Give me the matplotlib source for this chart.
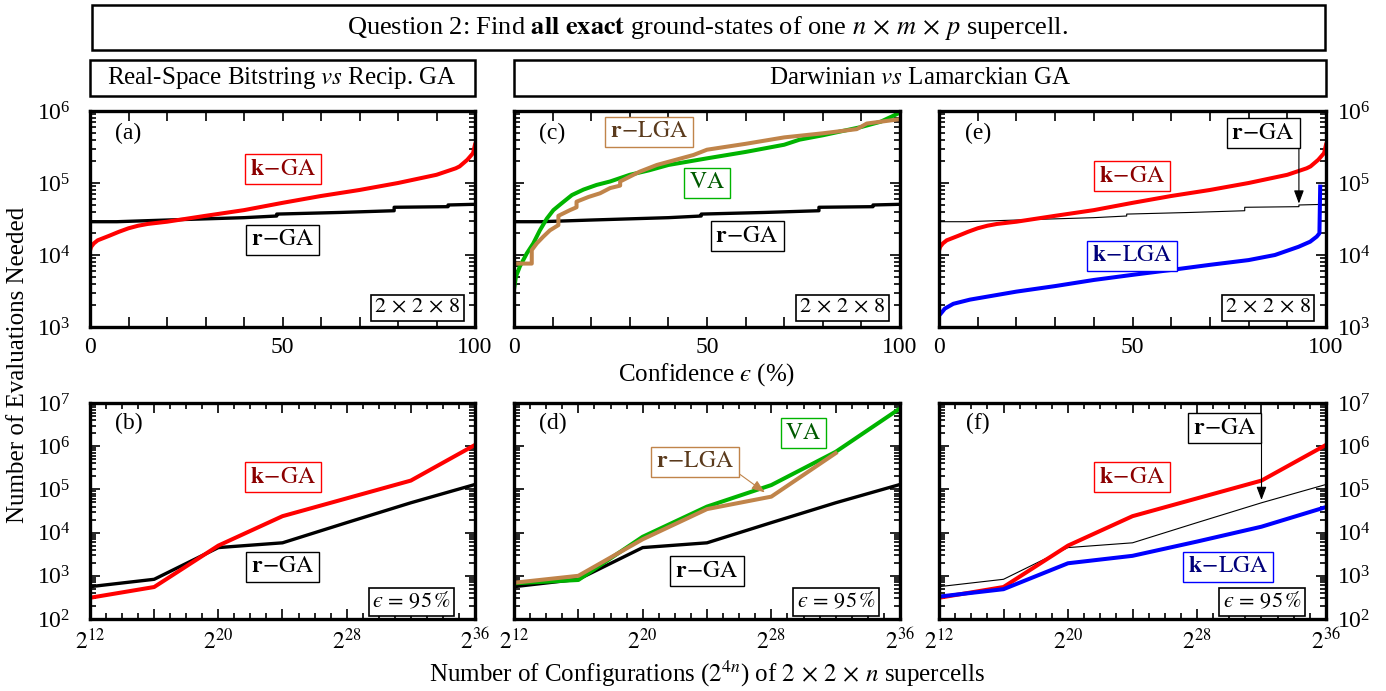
import numpy as np
import matplotlib
matplotlib.use("Agg")
import matplotlib.pyplot as plt
from matplotlib.patches import Rectangle
from matplotlib.ticker import (MultipleLocator, FuncFormatter, FixedLocator,
                               LogLocator, NullFormatter)
from matplotlib.transforms import blended_transform_factory

plt.rcParams["font.family"] = "serif"
plt.rcParams["font.serif"] = ["Liberation Serif", "DejaVu Serif"]
plt.rcParams["mathtext.fontset"] = "stix"

# ---- top row: evaluations vs confidence (2x2x8 cell) ----
pct_kga = [0, 0.3, 1, 2, 5, 7.5, 10, 12.5, 15, 20, 30, 40, 50, 60, 70, 80, 90, 95, 96, 98,
           99.5, 100]
kga_top = [1.15e4, 1.3e4, 1.45e4, 1.6e4, 1.85e4, 2.1e4, 2.35e4, 2.55e4, 2.7e4, 2.9e4,
           3.5e4, 4.2e4, 5.3e4, 6.6e4, 8.0e4, 1.0e5, 1.3e5, 1.6e5, 1.7e5, 2.1e5, 2.6e5, 3.4e5]

pct_rga = [0, 7, 20, 40, 48.5, 48.5, 65, 79, 79, 93, 93, 100]
rga_top = [2.9e4, 2.9e4, 3.06e4, 3.3e4, 3.48e4, 3.7e4, 3.9e4, 4.12e4, 4.6e4, 4.69e4, 4.95e4, 5.06e4]

pct_va = [0, 0.5, 1.5, 3.3, 5, 6.7, 8.5, 10.2, 12.3, 15, 18, 21.4, 24.9, 30, 35, 40,
          50, 60, 70, 74, 80, 90, 95, 100]
va_top = [3.3e3, 5.0e3, 6.9e3, 1.05e4, 1.45e4, 2.2e4, 3.2e4, 4.2e4, 5.2e4, 6.8e4, 8.1e4,
          9.4e4, 1.05e5, 1.3e5, 1.5e5, 1.78e5, 2.2e5, 2.7e5, 3.4e5, 4.0e5, 4.6e5, 6.0e5,
          7.1e5, 9.5e5]

pct_rlga = [0, 4.6, 4.6, 5.9, 7.6, 9.3, 11.5, 11.5, 14.5, 16.2, 16.2, 19.3, 22.3, 24.9,
            27.5, 27.5, 32.6, 37, 46.5, 50, 60, 70, 80, 88.8, 91.4, 100]
rlga_top = [7.6e3, 7.6e3, 1.17e4, 1.45e4, 1.8e4, 2.2e4, 2.6e4, 3.5e4, 4.2e4, 4.6e4, 5.5e4,
            6.4e4, 7.2e4, 8.5e4, 9.2e4, 1.05e5, 1.44e5, 1.78e5, 2.45e5, 2.9e5, 3.5e5,
            4.3e5, 4.9e5, 5.6e5, 6.7e5, 7.7e5]

pct_klga = [0, 0.3, 1.5, 3.7, 8, 20, 30, 40, 50, 60, 70, 80, 86.8, 92.9, 95.9, 97.6,
            98.3, 98.5]
klga_top = [1.45e3, 1.5e3, 1.8e3, 2.1e3, 2.4e3, 3.1e3, 3.7e3, 4.5e3, 5.3e3, 6.2e3, 7.3e3,
            8.5e3, 1.0e4, 1.3e4, 1.53e4, 1.8e4, 2.0e4, 8.9e4]

# ---- bottom row: evaluations vs number of configurations (eps = 95%) ----
cfg_exp = [12, 16, 20, 24, 28, 32, 36]
kga_bot = [310, 550, 5000, 2.4e4, 6.2e4, 1.6e5, 1.07e6]
rga_bot = [560, 830, 4500, 5800, 1.7e4, 4.9e4, 1.3e5]
va_bot = [670, 800, 8000, 4.0e4, 1.26e5, 7.4e5, 7.5e6]
rlga_exp = [12, 16, 20, 24, 28, 32]
rlga_bot = [690, 1000, 7000, 3.5e4, 6.8e4, 6.9e5]
klga_bot = [330, 490, 1950, 2900, 6200, 1.37e4, 3.9e4]

RED, BLACK, GREEN, BROWN, BLUE = "#ff0000", "black", "#00b400", "#c0844a", "#0000ff"
TXT = {RED: "#8b0000", BLACK: "black", GREEN: "#005a00", BROWN: "#5a3a1c", BLUE: "#00007a"}

EPS = "\u03f5"  # lunate epsilon as in the original
LBL_KGA = r"$\mathbf{k}\!-\!\mathrm{GA}$"
LBL_RGA = r"$\mathbf{r}\!-\!\mathrm{GA}$"
LBL_RLGA = r"$\mathbf{r}\!-\!\mathrm{LGA}$"
LBL_KLGA = r"$\mathbf{k}\!-\!\mathrm{LGA}$"
LBL_VA = r"$\mathrm{VA}$"
LBL_CELL = r"$2\,\times\,2\,\times\,8$"
LBL_EPS = "$" + EPS + r"\,=\,95\,\%$"

FS = 17

fig = plt.figure(figsize=(13.86, 6.91), dpi=100)

W, H = 1386.0, 691.0


def ax_at(x0, x1, y0, y1):
    return fig.add_axes([x0 / W, 1 - y1 / H, (x1 - x0) / W, (y1 - y0) / H])


ax_a = ax_at(90, 475, 111, 327)
ax_c = ax_at(514, 900, 111, 327)
ax_e = ax_at(939, 1326, 111, 327)
ax_b = ax_at(90, 475, 403, 619)
ax_d = ax_at(514, 900, 403, 619)
ax_f = ax_at(939, 1326, 403, 619)


def label(ax, x, y, s, color):
    ax.text(x, y, s, transform=ax.transAxes, ha="center", va="center", fontsize=FS,
            color=TXT[color], zorder=10,
            bbox=dict(boxstyle="square,pad=0.2", fc="white", ec=color, lw=1.0))


def style(ax, top_row, side):
    ax.set_yscale("log")
    if top_row:
        ax.set_xlim(0, 100)
        ax.set_ylim(1e3, 1e6)
        ax.xaxis.set_major_locator(MultipleLocator(10))
        ax.xaxis.set_major_formatter(FuncFormatter(
            lambda v, p: "%d" % v if int(round(v)) in (0, 50, 100) else ""))
    else:
        ax.set_xscale("log", base=2)
        ax.set_xlim(2 ** 12, 2 ** 36)
        ax.set_ylim(1e2, 1e7)
        ax.xaxis.set_major_locator(FixedLocator([2.0 ** k for k in range(12, 37, 4)]))
        ax.xaxis.set_minor_locator(FixedLocator([2.0 ** k for k in range(12, 37)]))
        ax.xaxis.set_major_formatter(FuncFormatter(
            lambda v, p: r"$2^{%d}$" % round(np.log2(v))
            if round(np.log2(v)) in (12, 20, 28, 36) else ""))
        ax.xaxis.set_minor_formatter(NullFormatter())
    ax.yaxis.set_major_locator(LogLocator(base=10, numticks=20))
    ax.yaxis.set_minor_locator(LogLocator(base=10, subs=np.arange(2, 10), numticks=20))
    ax.yaxis.set_minor_formatter(NullFormatter())
    ax.tick_params(which="both", direction="in", top=True, right=True, width=1.2,
                   labelsize=FS)
    ax.tick_params(which="major", length=7)
    ax.tick_params(which="minor", length=4)
    ax.tick_params(axis="x", pad=7)
    if side == "left":
        ax.tick_params(axis="y", labelleft=True, labelright=False, pad=14)
    elif side == "right":
        ax.tick_params(axis="y", labelleft=False, labelright=True, pad=8)
    else:
        ax.tick_params(axis="y", labelleft=False, labelright=False)
    for sp in ax.spines.values():
        sp.set_linewidth(2.4)


for ax, top, side in [(ax_a, True, "left"), (ax_c, True, None), (ax_e, True, "right"),
                      (ax_b, False, "left"), (ax_d, False, None), (ax_f, False, "right")]:
    style(ax, top, side)

cfg = [2.0 ** k for k in cfg_exp]
rcfg = [2.0 ** k for k in rlga_exp]
ARROW = "-|>,head_length=0.8,head_width=0.3"

# (a)
ax_a.plot(pct_rga, rga_top, color=BLACK, lw=2.4)
ax_a.plot(pct_kga, kga_top, color=RED, lw=2.9)
label(ax_a, 0.501, 0.731, LBL_KGA, RED)
label(ax_a, 0.501, 0.403, LBL_RGA, BLACK)

# (c)
ax_c.plot(pct_rga, rga_top, color=BLACK, lw=2.4)
ax_c.plot(pct_va, va_top, color=GREEN, lw=2.9)
ax_c.plot(pct_rlga, rlga_top, color=BROWN, lw=2.9)
label(ax_c, 0.350, 0.903, LBL_RLGA, BROWN)
label(ax_c, 0.500, 0.667, LBL_VA, GREEN)
label(ax_c, 0.604, 0.421, LBL_RGA, BLACK)

# (e)
ax_e.plot(pct_rga, rga_top, color=BLACK, lw=0.8)
ax_e.plot(pct_kga, kga_top, color=RED, lw=2.9)
ax_e.plot(pct_klga, klga_top, color=BLUE, lw=2.9)
label(ax_e, 0.499, 0.699, LBL_KGA, RED)
label(ax_e, 0.499, 0.329, LBL_KLGA, BLUE)
tr_e = blended_transform_factory(ax_e.transData, ax_e.transAxes)
ax_e.text(92.0, 0.898, LBL_RGA, transform=tr_e, ha="right", va="center", fontsize=FS,
          zorder=10, bbox=dict(boxstyle="square,pad=0.2", fc="white", ec=BLACK, lw=1.0))
ax_e.annotate("", xy=(pct_rga[-3], rga_top[-2]), xycoords="data",
              xytext=(pct_rga[-3], 0.833), textcoords=tr_e,
              arrowprops=dict(arrowstyle=ARROW, color=BLACK, lw=0.8, shrinkA=0, shrinkB=1))

# (b)
ax_b.plot(cfg, rga_bot, color=BLACK, lw=2.4)
ax_b.plot(cfg, kga_bot, color=RED, lw=2.9)
label(ax_b, 0.501, 0.657, LBL_KGA, RED)
label(ax_b, 0.501, 0.241, LBL_RGA, BLACK)

# (d)
ax_d.plot(cfg, rga_bot, color=BLACK, lw=2.4)
ax_d.plot(cfg, va_bot, color=GREEN, lw=2.9)
ax_d.plot(rcfg, rlga_bot, color=BROWN, lw=2.9)
label(ax_d, 0.749, 0.861, LBL_VA, GREEN)
label(ax_d, 0.469, 0.727, LBL_RLGA, BROWN)
label(ax_d, 0.500, 0.222, LBL_RGA, BLACK)
ax_d.annotate("", xy=(2 ** 27.6, 8.5e4), xycoords="data",
              xytext=(0.585, 0.67), textcoords="axes fraction",
              arrowprops=dict(arrowstyle=ARROW, color=BROWN, lw=0.8, shrinkA=0, shrinkB=0))

# (f)
ax_f.plot(cfg, rga_bot, color=BLACK, lw=0.8)
ax_f.plot(cfg, kga_bot, color=RED, lw=2.9)
ax_f.plot(cfg, klga_bot, color=BLUE, lw=2.9)
label(ax_f, 0.499, 0.657, LBL_KGA, RED)
label(ax_f, 0.747, 0.241, LBL_KLGA, BLUE)
tr_f = blended_transform_factory(ax_f.transData, ax_f.transAxes)
ax_f.text(2 ** 31.7, 0.884, LBL_RGA, transform=tr_f, ha="right", va="center", fontsize=FS,
          zorder=10, bbox=dict(boxstyle="square,pad=0.2", fc="white", ec=BLACK, lw=1.0))
ax_f.annotate("", xy=(cfg[5], rga_bot[5]), xycoords="data",
              xytext=(cfg[5], 0.819), textcoords=tr_f,
              arrowprops=dict(arrowstyle=ARROW, color=BLACK, lw=0.8, shrinkA=0, shrinkB=2))

# panel letters and cell / confidence boxes
for ax, s in [(ax_a, "(a)"), (ax_c, "(c)"), (ax_e, "(e)")]:
    ax.text(0.10, 0.898, s, transform=ax.transAxes, ha="center", va="center", fontsize=FS)
    ax.text(0.85, 0.088, LBL_CELL, transform=ax.transAxes, ha="center",
            va="center", fontsize=FS - 1,
            bbox=dict(boxstyle="square,pad=0.15", fc="white", ec="black", lw=1.2))
for ax, s in [(ax_b, "(b)"), (ax_d, "(d)"), (ax_f, "(f)")]:
    ax.text(0.10, 0.903, s, transform=ax.transAxes, ha="center", va="center", fontsize=FS)
    ax.text(0.835, 0.079, LBL_EPS, transform=ax.transAxes, ha="center",
            va="center", fontsize=FS - 1,
            bbox=dict(boxstyle="square,pad=0.15", fc="white", ec="black", lw=1.2))

# header boxes
for x0, x1, y0, y1 in [(92, 1325, 5, 50), (90, 475, 60, 96), (514, 1326, 60, 96)]:
    fig.add_artist(Rectangle((x0 / W, 1 - y1 / H), (x1 - x0) / W, (y1 - y0) / H,
                             transform=fig.transFigure, fill=False, ec="black", lw=1.8))
fig.text(708 / W, 1 - 28 / H,
         r"Question 2: Find $\mathbf{all\ exact}$ ground-states of one "
         r"$n\,\times\,m\,\times\,p$ supercell.",
         ha="center", va="center", fontsize=FS + 2)
fig.text(282 / W, 1 - 78 / H, r"Real-Space Bitstring $\it{vs}$ Recip. GA",
         ha="center", va="center", fontsize=FS + 1)
fig.text(920 / W, 1 - 78 / H, r"Darwinian $\it{vs}$ Lamarckian GA",
         ha="center", va="center", fontsize=FS + 1)

fig.text(18 / W, 1 - 365 / H, "Number of Evaluations Needed", rotation=90,
         ha="center", va="center", fontsize=FS + 1)
fig.text(707 / W, 1 - 375 / H, "Confidence $" + EPS + "$ (%)", ha="center", va="center",
         fontsize=FS + 1)
fig.text(707 / W, 1 - 674 / H,
         r"Number of Configurations ($2^{4n}$) of $2\,\times\,2\,\times\,n$ supercells",
         ha="center", va="center", fontsize=FS + 1)

fig.savefig("out.png", dpi=100)
